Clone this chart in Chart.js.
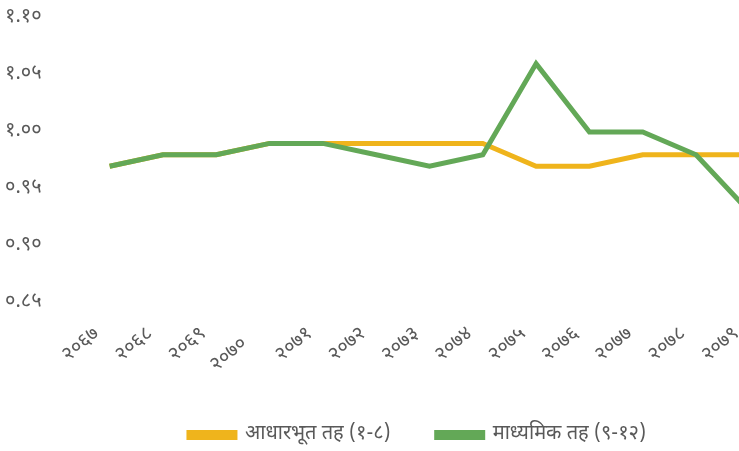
<!DOCTYPE html>
<html>
<head>
<meta charset="utf-8">
<script src="https://cdn.jsdelivr.net/npm/chart.js@4.4.1/dist/chart.umd.min.js"></script>
<style>
    html, body { margin: 0; padding: 0; background: #fff; overflow: hidden; }
    #wrap { width: 830px; height: 451px; }
</style>
</head>
<body>
<div id="wrap"><canvas id="chart" width="830" height="451"></canvas></div>
<script>
// Chart data
const years = ['२०६७', '२०६८', '२०६९', '२०७०', '२०७१', '२०७२', '२०७३', '२०७४', '२०७५', '२०७६', '२०७७', '२०७८', '२०७९'];
const basicLevel = [0.97, 0.98, 0.98, 0.99, 0.99, 0.99, 0.99, 0.99, 0.97, 0.97, 0.98, 0.98, 0.98];
const secondaryLevel = [0.97, 0.98, 0.98, 0.99, 0.99, 0.98, 0.97, 0.98, 1.06, 1.00, 1.00, 0.98, 0.93];
const seriesNames = ['आधारभूत तह (१-८)', 'माध्यमिक तह (९-१२)'];

const DIGITS = '०१२३४५६७८९';
const toNepali = (str) => String(str).replace(/[0-9]/g, d => DIGITS[d]);

const FONT = "'Noto Sans Devanagari', 'Noto Sans', sans-serif";
const TEXT_COLOR = '#595959';

new Chart('chart', {
    type: 'line',
    data: {
        labels: years,
        datasets: [
            {
                label: seriesNames[0],
                data: basicLevel,
                borderColor: '#EFB41C',
                backgroundColor: '#EFB41C',
                borderWidth: 5,
                pointRadius: 0,
                tension: 0
            },
            {
                label: seriesNames[1],
                data: secondaryLevel,
                borderColor: '#63A857',
                backgroundColor: '#63A857',
                borderWidth: 5,
                pointRadius: 0,
                tension: 0,
                order: -1 // draw on top
            }
        ]
    },
    options: {
        responsive: false,
        animation: false,
        layout: { padding: { left: 5, top: 18, right: 0, bottom: -4 } },
        plugins: {
            tooltip: { enabled: false },
            legend: {
                position: 'bottom',
                labels: {
                    boxWidth: 46,
                    boxHeight: 5,
                    padding: 46,
                    color: TEXT_COLOR,
                    font: { family: FONT, size: 20 },
                    sort: (a, b) => a.datasetIndex - b.datasetIndex
                }
            }
        },
        scales: {
            x: {
                offset: true,
                grid: { display: false },
                border: { display: false },
                ticks: {
                    minRotation: 40,
                    maxRotation: 40,
                    autoSkip: false,
                    padding: 12,
                    labelOffset: -12,
                    color: TEXT_COLOR,
                    font: { family: FONT, size: 20 },
                    // the original pushes this one label further out
                    callback: (value, i) => i === 3 ? years[i] + '\u00a0\u00a0\u00a0' : years[i]
                },
                afterFit: (scale) => { scale.height = 76; }
            },
            y: {
                min: 0.85,
                max: 1.10,
                grid: { display: false },
                border: { display: false },
                ticks: {
                    stepSize: 0.05,
                    crossAlign: 'far',
                    color: TEXT_COLOR,
                    font: { family: FONT, size: 20 },
                    callback: (value) => toNepali(value.toFixed(2))
                },
                afterFit: (scale) => { scale.width = 78; }
            },
            // empty right-hand gutter, the picture is cut off there
            gutter: {
                type: 'linear',
                position: 'right',
                grid: { display: false },
                border: { display: false },
                ticks: { display: false },
                afterFit: (scale) => { scale.width = 54; }
            }
        }
    }
});
</script>
</body>
</html>
